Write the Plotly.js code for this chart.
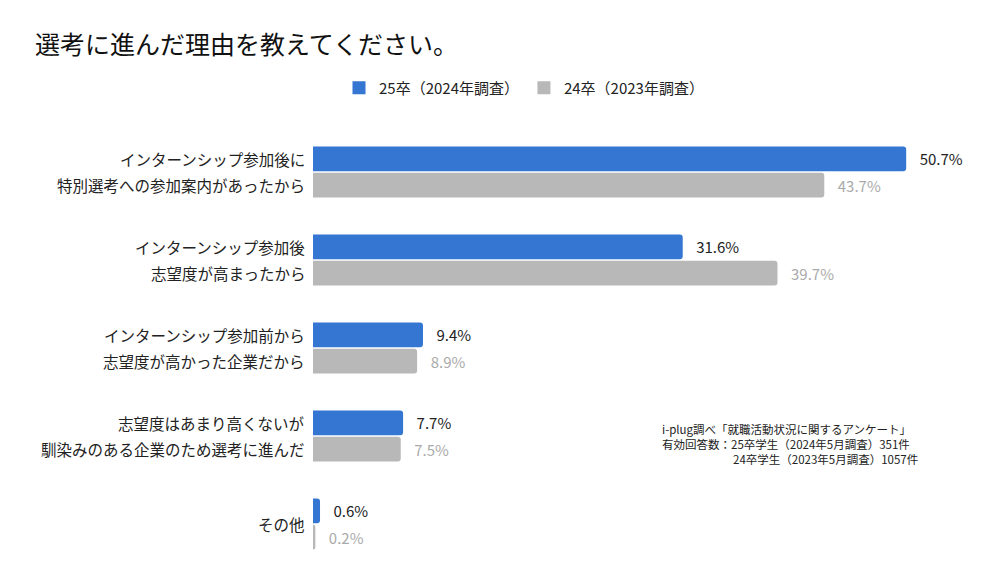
<!DOCTYPE html>
<html><head><meta charset="utf-8">
<script src="https://cdn.plot.ly/plotly-3.0.1.min.js"></script>
<style>html,body{margin:0;padding:0;background:#fff;}#chart{width:1000px;height:580px;}</style>
</head><body><div id="chart"></div>
<script>
const categories = [
  "インターンシップ参加後に<br>特別選考への参加案内があったから",
  "インターンシップ参加後<br>志望度が高まったから",
  "インターンシップ参加前から<br>志望度が高かった企業だから",
  "志望度はあまり高くないが<br>馴染みのある企業のため選考に進んだ",
  "その他"
];
const seriesNames = ["25卒（2024年調査）", "24卒（2023年調査）"];
const values25 = [50.7, 31.6, 9.4, 7.7, 0.6];
const values24 = [43.7, 39.7, 8.9, 7.5, 0.2];
const titleText = "選考に進んだ理由を教えてください。";
const noteLines = [
  "i-plug調べ「就職活動状況に関するアンケート」",
  "有効回答数：25卒学生（2024年5月調査）351件",
  "24卒学生（2023年5月調査）1057件"
];

const FONT = "'Noto Sans CJK JP', 'Noto Sans', sans-serif";
const L = 313, R = 9, W = 1000, T = 128, H = 580, B = 12;
const plotW = W - L - R, plotH = H - T - B;
function px(x){ return (x - L) / plotW; }
function py(y){ return 1 - (y - T) / plotH; }
const BLUE = '#3476d2', GRAY = '#b8b8b8';
const PAD = '\u2002\u2009';

const t1 = {
  type: 'bar', orientation: 'h', name: seriesNames[0], showlegend: false,
  y: categories, x: values25,
  marker: {color: BLUE, cornerradius: 3},
  text: values25.map(v => PAD + v.toFixed(1) + '%'),
  textposition: 'outside', cliponaxis: false,
  textfont: {color: '#222', size: 15, family: FONT},
  hoverinfo: 'skip'
};
const t2 = {
  type: 'bar', orientation: 'h', name: seriesNames[1], showlegend: false,
  y: categories, x: values24,
  marker: {color: GRAY, cornerradius: 3},
  text: values24.map(v => PAD + v.toFixed(1) + '%'),
  textposition: 'outside', cliponaxis: false,
  textfont: {color: '#aaaaaa', size: 15, family: FONT},
  hoverinfo: 'skip'
};
const leg1 = {type: 'scatter', mode: 'markers', name: seriesNames[0], x: [null], y: [null],
  marker: {symbol: 'square', size: 13, color: BLUE}, hoverinfo: 'skip'};
const leg2 = {type: 'scatter', mode: 'markers', name: seriesNames[1], x: [null], y: [null],
  marker: {symbol: 'square', size: 13, color: GRAY}, hoverinfo: 'skip'};

const annotations = [];
categories.forEach(c => {
  const lines = c.split('<br>');
  const n = lines.length;
  lines.forEach((ln, i) => {
    annotations.push({text: ln, xref: 'paper', yref: 'y', x: 0, y: c, xanchor: 'right', yanchor: 'middle',
      xshift: -6, yshift: ((n - 1) / 2 - i) * 26, showarrow: false,
      font: {size: 15.5, color: '#222', family: FONT}});
  });
});
annotations.push(
  {text: noteLines[0], xref: 'paper', yref: 'paper', x: px(660), y: py(429), xanchor: 'left', yanchor: 'middle', showarrow: false, font: {size: 11.5, color: '#222'}},
  {text: noteLines[1], xref: 'paper', yref: 'paper', x: px(660), y: py(444), xanchor: 'left', yanchor: 'middle', showarrow: false, font: {size: 11.5, color: '#222'}},
  {text: noteLines[2], xref: 'paper', yref: 'paper', x: px(731), y: py(459), xanchor: 'left', yanchor: 'middle', showarrow: false, font: {size: 11.5, color: '#222'}}
);

const layout = {
  width: W, height: H,
  paper_bgcolor: '#fff', plot_bgcolor: '#fff',
  font: {family: FONT, color: '#222', size: 15},
  margin: {l: L, r: R, t: T, b: B},
  title: {text: titleText, x: 35/W, xanchor: 'left', y: 1 - 45/H, yanchor: 'middle',
          font: {size: 25, color: '#111', family: FONT}},
  showlegend: true,
  legend: {orientation: 'h', x: px(339), xanchor: 'left', y: py(88), yanchor: 'middle',
           font: {size: 15, color: '#222'}, traceorder: 'normal'},
  barmode: 'group', bargap: 0.4, bargroupgap: 0.06,
  xaxis: {range: [0, plotW/11.7], visible: false, fixedrange: true},
  yaxis: {autorange: 'reversed', showgrid: false, zeroline: false, showline: false,
          ticks: '', showticklabels: false},
  annotations: annotations
};

Plotly.newPlot('chart', [t1, t2, leg1, leg2], layout, {displayModeBar: false, staticPlot: true});
</script></body></html>
